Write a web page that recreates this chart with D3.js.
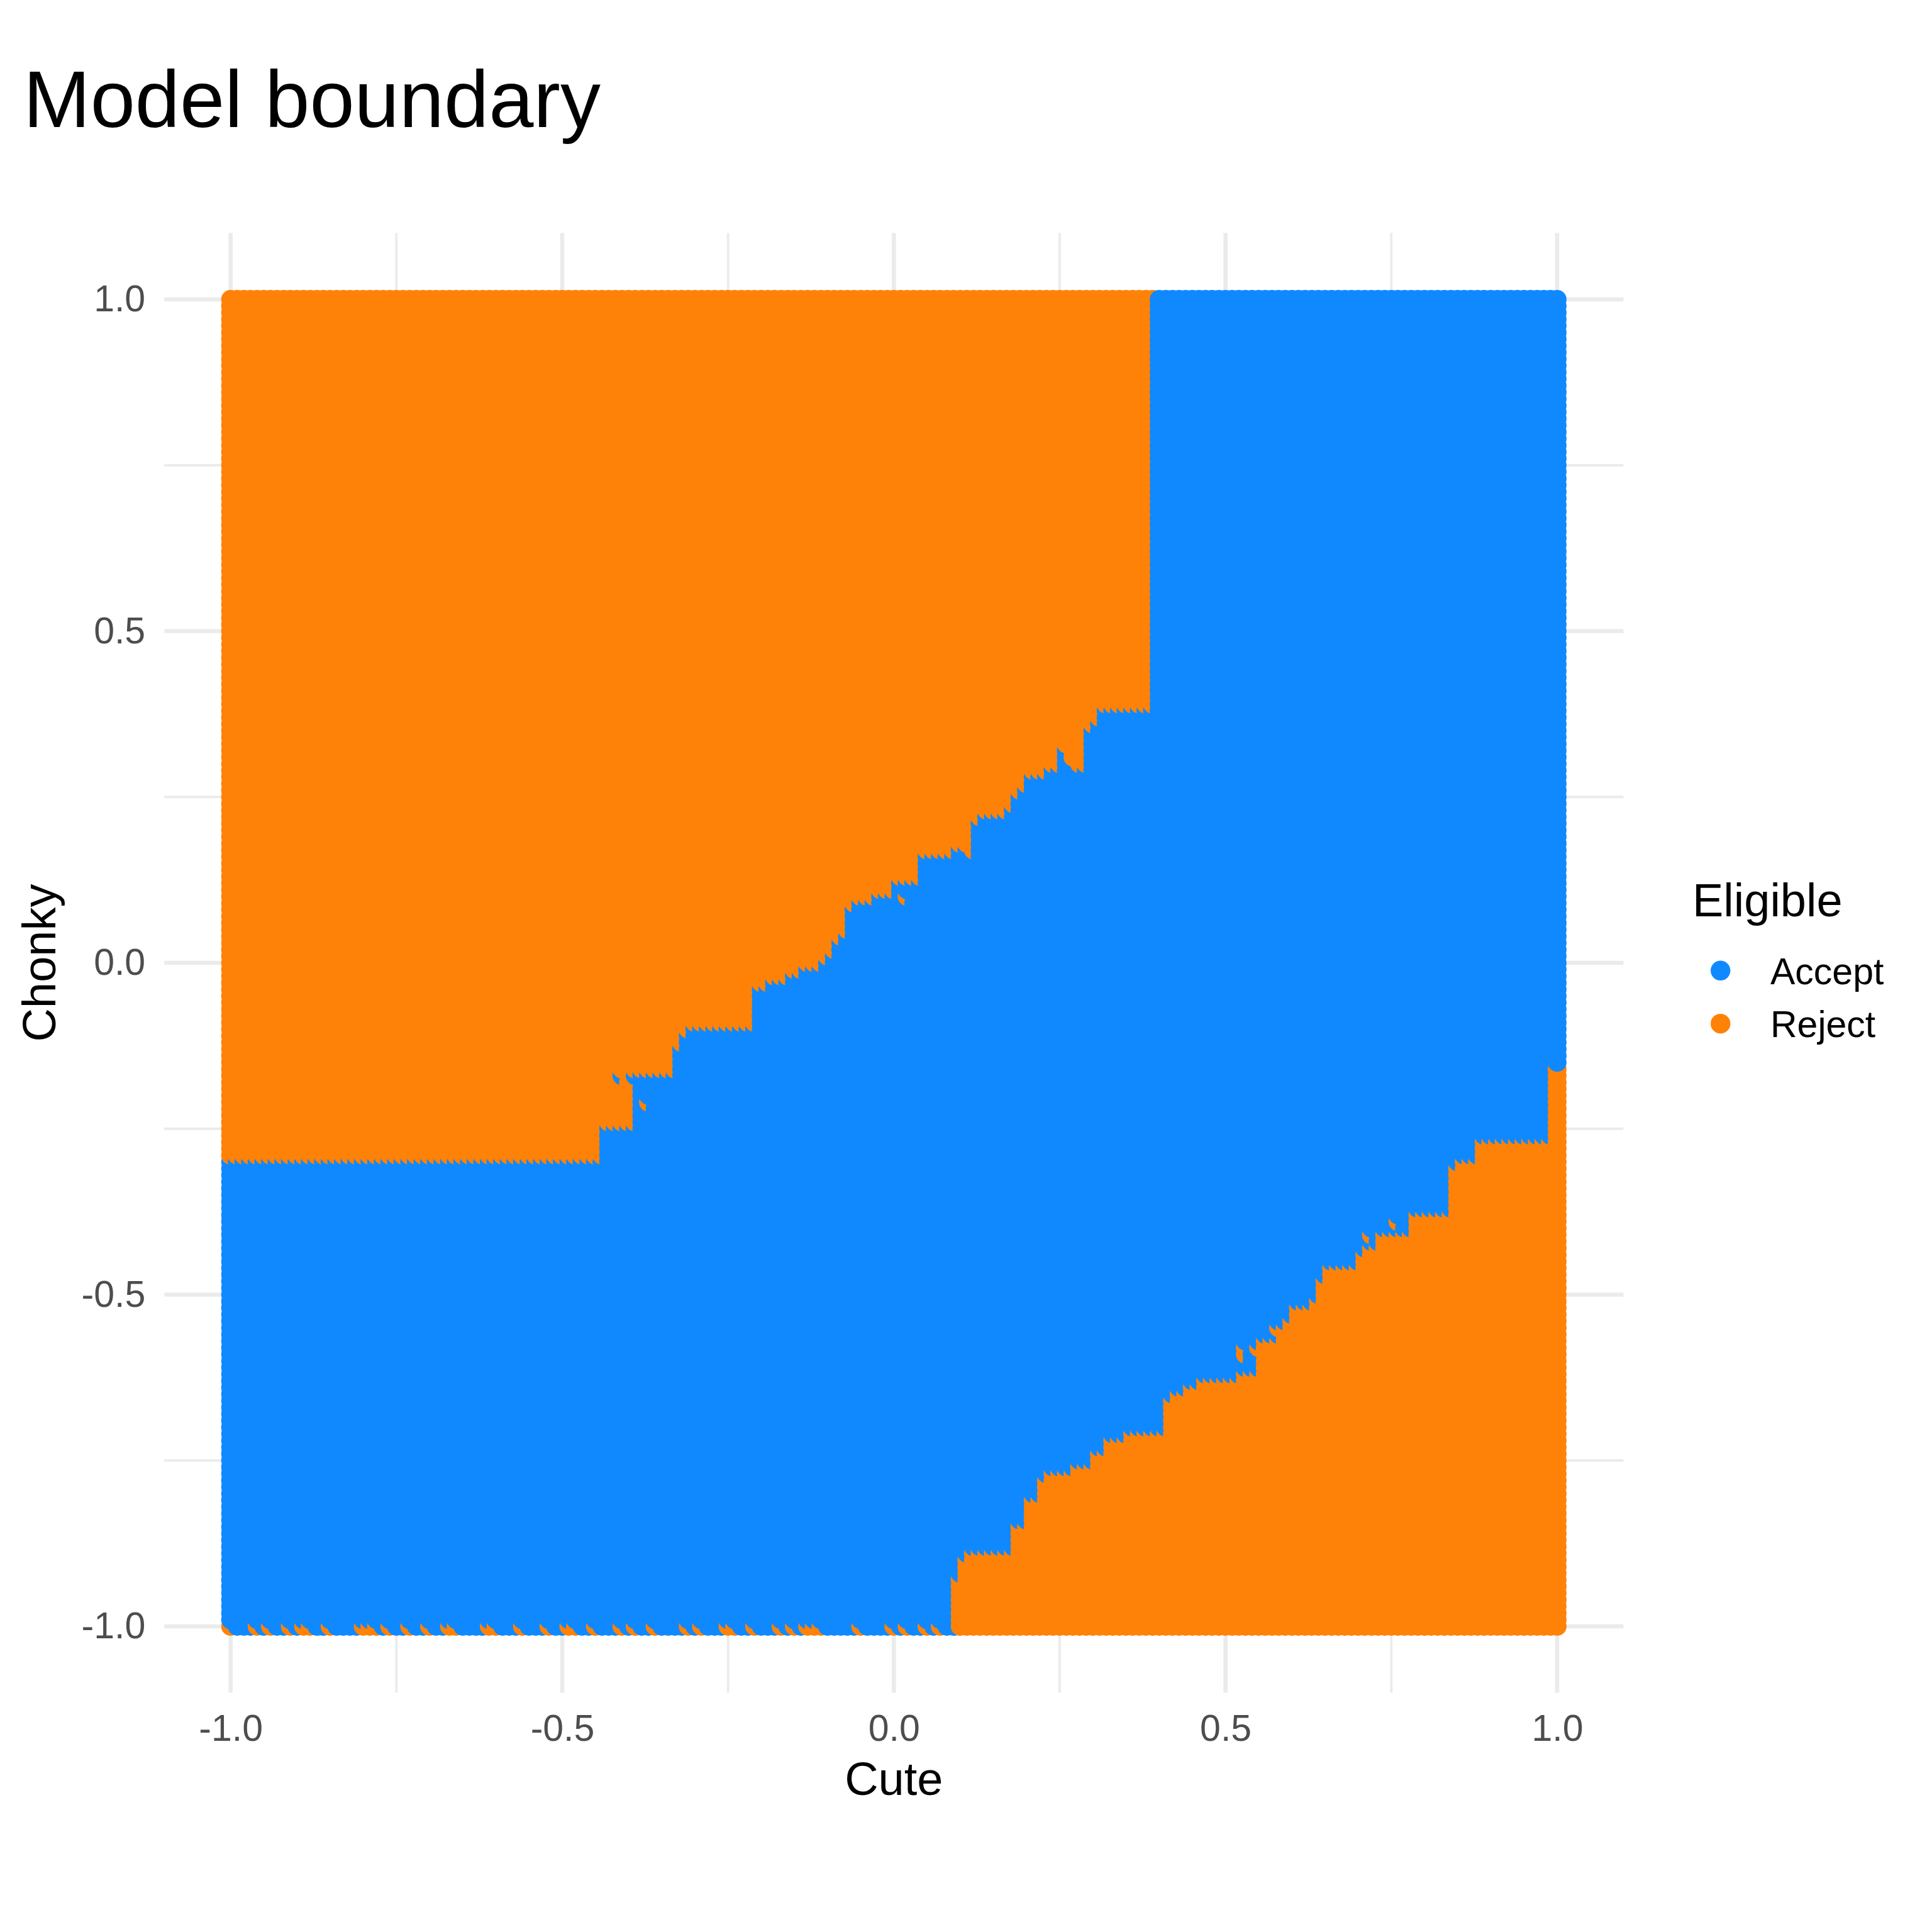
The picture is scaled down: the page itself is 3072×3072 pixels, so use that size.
<!DOCTYPE html>
<html>
<head>
<meta charset="utf-8">
<script src="https://cdn.jsdelivr.net/npm/d3@7"></script>
<style>
  body { margin: 0; background: #ffffff; }
  text { font-family: "Liberation Sans", Arial, sans-serif; }
</style>
</head>
<body>
<div id="chart"></div>
<script>
// ---- data ----
// axis ticks
const majorTicks = [-1, -0.5, 0, 0.5, 1]
const minorTicks = [-0.75, -0.25, 0.25, 0.75]
const tickLabels = ["-1.0", "-0.5", "0.0", "0.5", "1.0"]

// classes
const classes = ["Accept", "Reject"]
const classColors = ["#1089ff", "#ff8208"]

// the prediction grid is a 0.01 lattice over [-1, 1] x [-1, 1]
const gridStep = 0.01

// upper boundary: from each Cute start, Accept up to this Chonky, Reject above
const upperStart = [-1.00, -0.43, -0.38, -0.32, -0.31, -0.30, -0.20, -0.18, -0.15, -0.13,
  -0.10, -0.09, -0.08, -0.07, -0.06, -0.05, -0.02, 0.01, 0.05, 0.10,
  0.12, 0.13, 0.14, 0.18, 0.19, 0.20, 0.21, 0.24, 0.26, 0.27,
  0.28, 0.30, 0.31, 0.32, 0.40]
const upperLevel = [-0.30, -0.25, -0.17, -0.13, -0.11, -0.10, -0.04, -0.03, -0.02, -0.01,
  0.00, 0.01, 0.03, 0.04, 0.08, 0.09, 0.10, 0.12, 0.16, 0.17,
  0.16, 0.21, 0.22, 0.23, 0.25, 0.26, 0.28, 0.29, 0.32, 0.30,
  0.29, 0.35, 0.36, 0.38, 1.00]

// lower boundary: from each Cute start, Reject up to this Chonky (null = none)
const lowerStart = [-1.00, 0.10, 0.11, 0.12, 0.19, 0.21, 0.23, 0.24, 0.28, 0.31,
  0.33, 0.36, 0.42, 0.43, 0.45, 0.47, 0.53, 0.56, 0.60, 0.61,
  0.64, 0.65, 0.66, 0.71, 0.72, 0.74, 0.79, 0.85, 0.86, 0.89, 1.00]
const lowerLevel = [null, -0.93, -0.90, -0.89, -0.85, -0.81, -0.78, -0.77, -0.76, -0.74,
  -0.72, -0.71, -0.66, -0.65, -0.64, -0.63, -0.62, -0.57, -0.54, -0.52,
  -0.51, -0.48, -0.46, -0.44, -0.43, -0.41, -0.38, -0.31, -0.30, -0.27, -0.16]

// Reject points scattered along the bottom row (Chonky = -1)
const bottomReject = [-1.00, -0.96, -0.94, -0.91, -0.89, -0.88, -0.85, -0.80, -0.79, -0.78,
  -0.76, -0.73, -0.70, -0.67, -0.66, -0.61, -0.60, -0.56, -0.52, -0.49,
  -0.48, -0.45, -0.41, -0.39, -0.36, -0.31, -0.29, -0.25, -0.24, -0.21,
  -0.17, -0.15, -0.13, -0.12, -0.11, -0.05, 0.00, 0.02, 0.05, 0.07]

// a few stray points near the boundaries
const strayCute = [-0.41, -0.39, -0.37, 0.02, 0.53, 0.53, 0.55, 0.58, 0.59, 0.59, 0.72, 0.76]
const strayChonky = [-0.17, -0.17, -0.21, 0.10, -0.58, -0.59, -0.58, -0.55, -0.55, -0.56, -0.41, -0.39]
const strayClass = ["Accept", "Accept", "Reject", "Reject", "Reject", "Reject", "Reject",
  "Reject", "Reject", "Reject", "Reject", "Reject"]

;(function () {
  const W = 3072, H = 3072
  const panel = { left: 261.2, right: 2581.4, top: 370.5, bottom: 2691.5 }
  const pointRadius = 15

  const svg = d3.select("#chart").append("svg")
    .attr("width", W)
    .attr("height", H)

  const xPositionScale = d3.scaleLinear()
    .domain([-1.1, 1.1])
    .range([panel.left, panel.right])

  const yPositionScale = d3.scaleLinear()
    .domain([-1.1, 1.1])
    .range([panel.bottom, panel.top])

  const colorScale = d3.scaleOrdinal()
    .domain(classes)
    .range(classColors)

  // grid lines, minor first
  const grid = svg.append("g").attr("class", "grid")
  grid.selectAll(".vminor").data(minorTicks).join("line")
    .attr("x1", d => xPositionScale(d)).attr("x2", d => xPositionScale(d))
    .attr("y1", panel.top).attr("y2", panel.bottom)
    .attr("stroke", "#ebebeb").attr("stroke-width", 3.8)
  grid.selectAll(".hminor").data(minorTicks).join("line")
    .attr("y1", d => yPositionScale(d)).attr("y2", d => yPositionScale(d))
    .attr("x1", panel.left).attr("x2", panel.right)
    .attr("stroke", "#ebebeb").attr("stroke-width", 3.8)
  grid.selectAll(".vmajor").data(majorTicks).join("line")
    .attr("x1", d => xPositionScale(d)).attr("x2", d => xPositionScale(d))
    .attr("y1", panel.top).attr("y2", panel.bottom)
    .attr("stroke", "#ebebeb").attr("stroke-width", 6.7)
  grid.selectAll(".hmajor").data(majorTicks).join("line")
    .attr("y1", d => yPositionScale(d)).attr("y2", d => yPositionScale(d))
    .attr("x1", panel.left).attr("x2", panel.right)
    .attr("stroke", "#ebebeb").attr("stroke-width", 6.7)

  // which step a Cute value falls in
  function stepIndex(starts, x) {
    let idx = 0
    starts.forEach((s, i) => { if (x >= s - 1e-9) idx = i })
    return idx
  }

  function eligible(cute, chonky) {
    for (let i = 0; i < strayCute.length; i++) {
      if (Math.abs(strayCute[i] - cute) < 1e-6 && Math.abs(strayChonky[i] - chonky) < 1e-6) return strayClass[i]
    }
    if (Math.abs(chonky + 1) < 1e-6 && bottomReject.some(c => Math.abs(c - cute) < 1e-6)) return "Reject"
    const up = upperLevel[stepIndex(upperStart, cute)]
    if (chonky > up + 1e-6) return "Reject"
    const low = lowerLevel[stepIndex(lowerStart, cute)]
    if (low !== null && chonky <= low + 1e-6) return "Reject"
    return "Accept"
  }

  // points, column by column (Cute outer, Chonky inner)
  const n = Math.round(2 / gridStep)
  const points = []
  for (let i = 0; i <= n; i++) {
    const cute = Math.round((-1 + i * gridStep) * 100) / 100
    for (let j = 0; j <= n; j++) {
      const chonky = Math.round((-1 + j * gridStep) * 100) / 100
      points.push({ cute: cute, chonky: chonky, eligible: eligible(cute, chonky) })
    }
  }

  svg.append("g").attr("class", "points")
    .selectAll("circle")
    .data(points)
    .join("circle")
    .attr("cx", d => xPositionScale(d.cute))
    .attr("cy", d => yPositionScale(d.chonky))
    .attr("r", pointRadius)
    .attr("fill", d => colorScale(d.eligible))

  // axes (no lines, no ticks, just labels)
  const xAxis = d3.axisBottom(xPositionScale)
    .tickValues(majorTicks)
    .tickFormat((d, i) => tickLabels[i])
    .tickSize(0)
    .tickPadding(34.6)
  svg.append("g")
    .attr("class", "axis x-axis")
    .attr("transform", "translate(0," + panel.bottom + ")")
    .call(xAxis)
    .call(g => g.select(".domain").remove())

  const yAxis = d3.axisLeft(yPositionScale)
    .tickValues(majorTicks)
    .tickFormat((d, i) => tickLabels[i])
    .tickSize(0)
    .tickPadding(30)
  svg.append("g")
    .attr("class", "axis y-axis")
    .attr("transform", "translate(" + panel.left + ",0)")
    .call(yAxis)
    .call(g => g.select(".domain").remove())

  svg.selectAll(".axis text")
    .attr("font-family", "Liberation Sans, Arial, sans-serif")
    .attr("font-size", 59)
    .attr("fill", "#4d4d4d")

  // titles
  svg.append("text")
    .attr("x", 37)
    .attr("y", 202)
    .attr("font-size", 128)
    .attr("fill", "#000")
    .text("Model boundary")

  svg.append("text")
    .attr("x", xPositionScale(0))
    .attr("y", 2854)
    .attr("text-anchor", "middle")
    .attr("font-size", 74)
    .attr("fill", "#000")
    .text("Cute")

  svg.append("text")
    .attr("transform", "translate(88," + yPositionScale(0) + ") rotate(-90)")
    .attr("text-anchor", "middle")
    .attr("font-size", 74)
    .attr("fill", "#000")
    .text("Chonky")

  // legend
  const legend = svg.append("g").attr("class", "legend")
  legend.append("text")
    .attr("x", 2691)
    .attr("y", 1457)
    .attr("font-size", 74)
    .attr("fill", "#000")
    .text("Eligible")

  const rows = legend.selectAll(".key")
    .data(classes)
    .join("g")
    .attr("class", "key")
    .attr("transform", (d, i) => "translate(0," + (1543.3 + i * 84.4) + ")")
  rows.append("circle")
    .attr("cx", 2735.7)
    .attr("cy", 0)
    .attr("r", 15.7)
    .attr("fill", d => colorScale(d))
  rows.append("text")
    .attr("x", 2815)
    .attr("y", 21.5)
    .attr("font-size", 59)
    .attr("fill", "#000")
    .text(d => d)
})();
</script>
</body>
</html>
